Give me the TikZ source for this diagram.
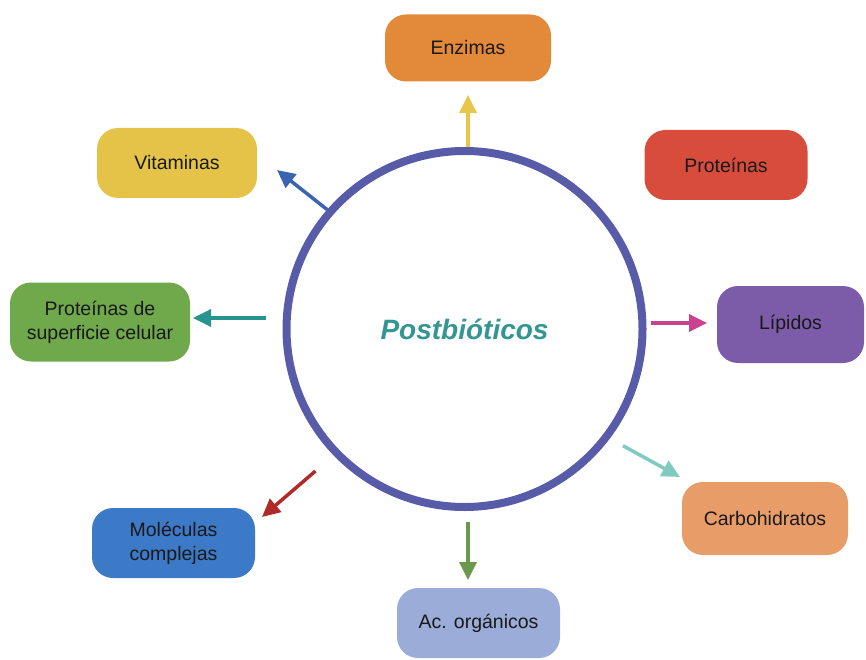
\documentclass[tikz,border=0pt]{standalone}
\usepackage{fontspec}
\setmainfont{Liberation Sans}
\usepackage{tikz}
\usetikzlibrary{arrows.meta}
\definecolor{circazul}{RGB}{88,92,168}
\definecolor{postteal}{RGB}{52,150,146}
\definecolor{cEnz}{RGB}{226,137,58}
\definecolor{cProt}{RGB}{216,76,60}
\definecolor{cVit}{RGB}{229,195,72}
\definecolor{cSup}{RGB}{112,168,76}
\definecolor{cLip}{RGB}{124,92,168}
\definecolor{cCarb}{RGB}{232,156,104}
\definecolor{cMol}{RGB}{60,122,200}
\definecolor{cAc}{RGB}{156,172,216}
\definecolor{aYel}{RGB}{232,198,74}
\definecolor{aBlu}{RGB}{58,100,178}
\definecolor{aTea}{RGB}{40,148,144}
\definecolor{aPnk}{RGB}{200,66,144}
\definecolor{aLte}{RGB}{128,202,192}
\definecolor{aRed}{RGB}{176,42,42}
\definecolor{aGrn}{RGB}{106,152,76}
\tikzset{
  pb_box/.style = {rounded corners=21pt, align=center, inner sep=0pt,
    text=black!90, font=\fontsize{19.5}{24}\selectfont,
    minimum width=163pt, minimum height=70pt},% caja de cada componente
  pb_circ/.style = {circle, draw=circazul, line width=8pt,
    minimum size=356pt, inner sep=0pt, text=postteal,
    font=\fontsize{28}{30}\selectfont\bfseries\itshape},% circulo central
  pb_arr/.style = {line width=3.5pt, -{Triangle[length=18pt,width=17pt]}}% flecha
}
\begin{document}
\begin{tikzpicture}[x=1pt,y=-1pt]
    \useasboundingbox (0,0) rectangle (866,660);
    \node [pb_circ] (post) at (464.5,329) {Postbióticos};

    \node [pb_box, fill=cEnz, minimum width=166pt, minimum height=67pt] (enz) at (468,48) {Enzimas};
    \node [pb_box, fill=cProt] (prot) at (726,165) {Proteínas};
    \node [pb_box, fill=cVit, minimum width=160pt] (vit) at (177,163) {Vitaminas};
    \node [pb_box, fill=cSup, minimum width=180pt, minimum height=79pt] (sup) at (100,322) {Proteínas de\\superficie celular};
    \node [pb_box, fill=cLip, minimum width=147pt, minimum height=77pt] (lip) at (790.5,324.5) {Lípidos};
    \node [pb_box, fill=cCarb, minimum width=166pt, minimum height=73pt] (carb) at (765,518.5) {Carbohidratos};
    \node [pb_box, fill=cMol] (mol) at (173.5,543) {Moléculas\\complejas};
    \node [pb_box, fill=cAc] (ac) at (478.5,623) {Ac. orgánicos};

    % puntas de las flechas
    \coordinate (tEnz) at (468,95);
    \coordinate (tVit) at (277,170);
    \coordinate (tSup) at (193,318);
    \coordinate (tLip) at (707,323);
    \coordinate (tCarb) at (680,477);
    \coordinate (tMol) at (262,517);
    \coordinate (tAc) at (468,580);

    \draw [pb_arr, aYel] (post.north -| tEnz) -- (tEnz);
    \draw [pb_arr, aBlu] (post.139) -- (tVit);
    \draw [pb_arr, aTea, shorten <=17pt] (post.west |- tSup) -- (tSup);
    \draw [pb_arr, aPnk, shorten <=4pt] (post.east |- tLip) -- (tLip);
    \draw [pb_arr, aLte, shorten <=15pt] (post.-37) -- (tCarb);
    \draw [pb_arr, aRed, shorten <=24pt] (post.-136) -- (tMol);
    \draw [pb_arr, aGrn, shorten <=11pt] (post.south -| tAc) -- (tAc);
\end{tikzpicture}
\end{document}
